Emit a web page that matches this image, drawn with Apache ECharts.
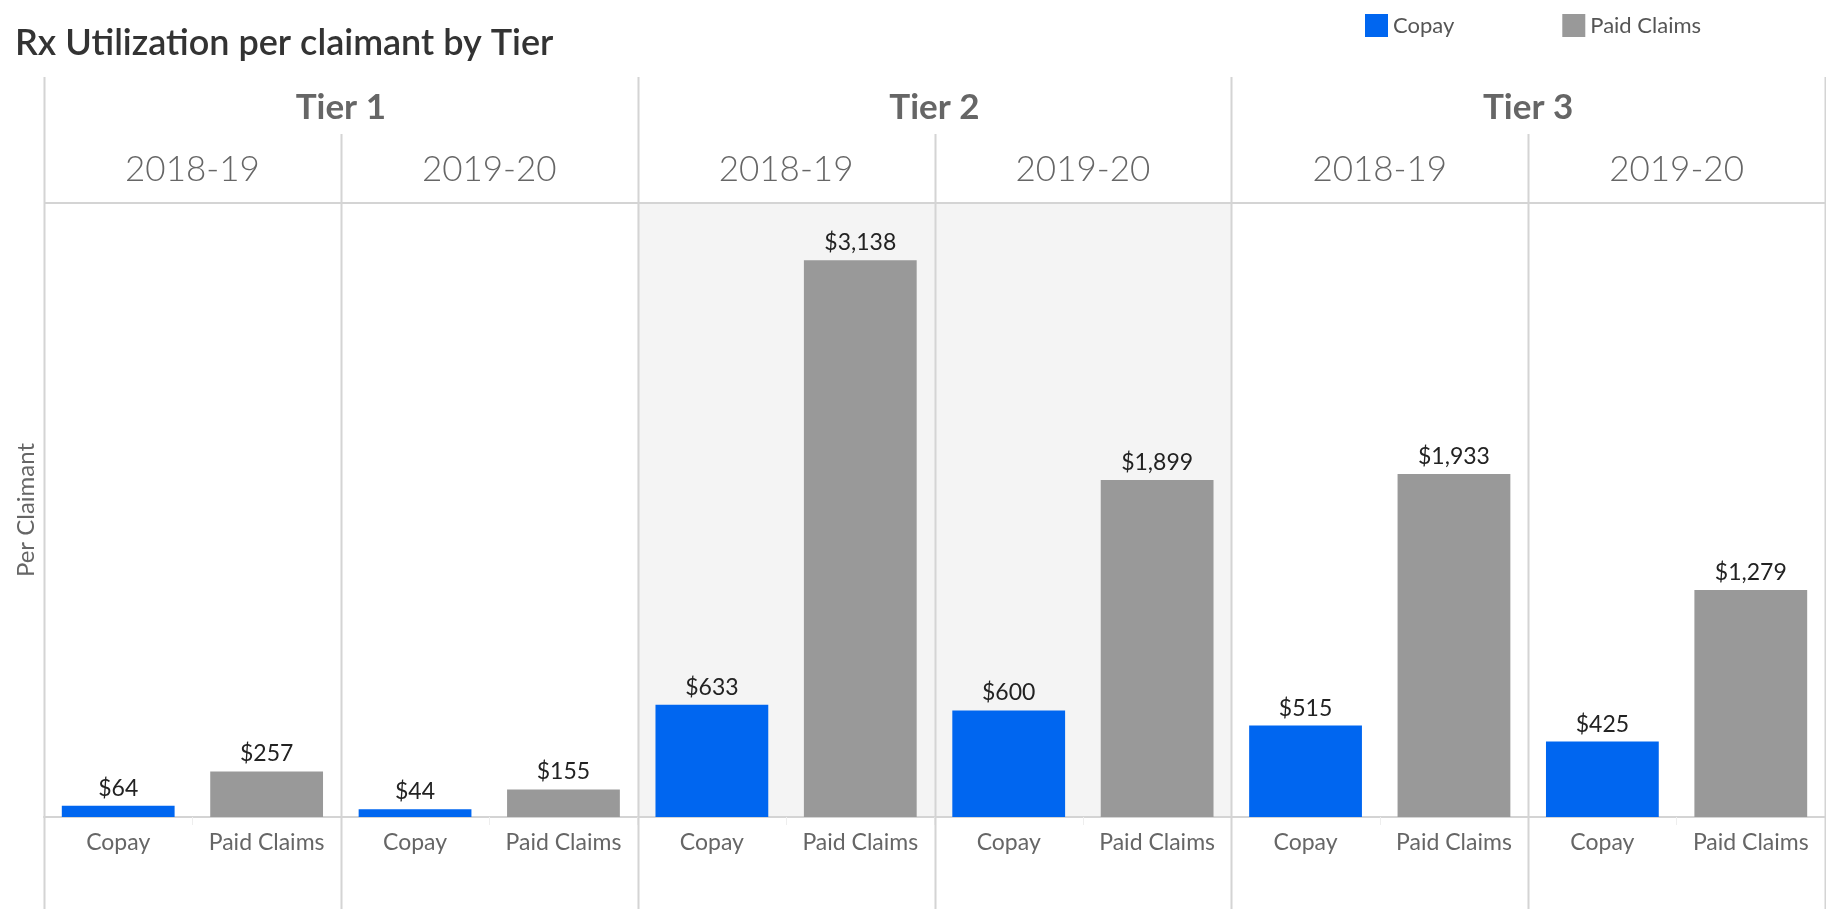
<!DOCTYPE html>
<html>
<head>
<meta charset="utf-8">
<script src="https://cdn.jsdelivr.net/npm/echarts@6/dist/echarts.min.js"></script>
<style>
  html, body { margin: 0; padding: 0; background: #fff; }
  #chart { width: 1826px; height: 909px; }
</style>
</head>
<body>
<div id="chart"></div>
<script>
// data
const tiers = ['Tier 1', 'Tier 2', 'Tier 3'];
const years = ['2018-19', '2019-20'];
const categories = ['Copay', 'Paid Claims'];
// one value per tier/year panel, in order T1 18-19, T1 19-20, T2 18-19, ...
const copay = [64, 44, 633, 600, 515, 425];
const paidClaims = [257, 155, 3138, 1899, 1933, 1279];

// layout
const L = 44, R = 1825, TOP = 203, BASE = 817;
const FONT = 'Lato, "Noto Sans", sans-serif';
const panels = tiers.length * years.length;
const pw = (R - L) / panels;
const BLUE = '#0066f0', GREY = '#999999', LINE = '#d4d4d4';

const chart = echarts.init(document.getElementById('chart'));

const grid = [], xAxis = [], yAxis = [], series = [], graphic = [];

for (let i = 0; i < panels; i++) {
  const tierIdx = Math.floor(i / years.length);
  grid.push({
    left: L + i * pw, width: pw, top: TOP, height: BASE - TOP,
    show: tierIdx === 1, backgroundColor: '#f4f4f4', borderWidth: 0
  });
  xAxis.push({
    type: 'category', gridIndex: i, data: categories,
    axisLine: {lineStyle: {color: LINE, width: 2}},
    axisTick: {show: true, length: 8, lineStyle: {color: '#eeeeee'}},
    axisLabel: {interval: 0, color: '#666', fontFamily: FONT, fontSize: 23, margin: 14}
  });
  yAxis.push({
    type: 'value', gridIndex: i, min: 0, max: 3460,
    show: i === 0,
    axisLine: {show: false}, axisTick: {show: false},
    axisLabel: {show: false}, splitLine: {show: false},
    name: i === 0 ? 'Per Claimant' : '',
    nameLocation: 'middle', nameGap: 6,
    nameTextStyle: {color: '#666', fontFamily: FONT, fontSize: 24}
  });
  const label = {
    show: true, position: 'top', distance: 6,
    color: '#222', fontFamily: FONT, fontSize: 23,
    formatter: p => '$' + p.value.toLocaleString('en-US')
  };
  series.push({
    name: 'Copay', type: 'bar', xAxisIndex: i, yAxisIndex: i, stack: 'p' + i,
    barCategoryGap: '24%', itemStyle: {color: BLUE}, label,
    data: [copay[i], '-']
  });
  series.push({
    name: 'Paid Claims', type: 'bar', xAxisIndex: i, yAxisIndex: i, stack: 'p' + i,
    barCategoryGap: '24%', itemStyle: {color: GREY}, label,
    data: ['-', paidClaims[i]]
  });

  // year header
  graphic.push({
    type: 'text', x: L + (i + 0.5) * pw, y: 170,
    style: {
      text: years[i % years.length], fill: '#666', font: '300 35px ' + FONT,
      textAlign: 'center', textVerticalAlign: 'middle'
    }
  });
}

// tier headers
tiers.forEach((t, k) => {
  graphic.push({
    type: 'text', x: L + (k * 2 + 1) * pw, y: 108,
    style: {
      text: t, fill: '#666', font: 'bold 35px ' + FONT,
      textAlign: 'center', textVerticalAlign: 'middle'
    }
  });
});

// divider lines
for (let k = 0; k <= panels; k++) {
  const x = Math.round(L + k * pw) + 0.5;
  const y1 = k % years.length === 0 ? 77 : 134;
  graphic.push({
    type: 'line', z: 100,
    shape: {x1: x, y1: y1, x2: x, y2: 909},
    style: {stroke: LINE, lineWidth: 2}
  });
}
graphic.push({
  type: 'line', z: 100,
  shape: {x1: L, y1: TOP, x2: R, y2: TOP},
  style: {stroke: LINE, lineWidth: 2}
});

chart.setOption({
  animation: false,
  title: {
    text: 'Rx Utilization per claimant by Tier',
    left: 10, top: 20,
    textStyle: {color: '#333', fontFamily: FONT, fontSize: 36, fontWeight: 600}
  },
  legend: {
    data: ['Copay', 'Paid Claims'],
    left: 1360, top: 9,
    icon: 'rect', itemWidth: 23, itemHeight: 23, itemGap: 108,
    textStyle: {color: '#555', fontFamily: FONT, fontSize: 22}
  },
  grid, xAxis, yAxis, series, graphic
});
</script>
</body>
</html>
